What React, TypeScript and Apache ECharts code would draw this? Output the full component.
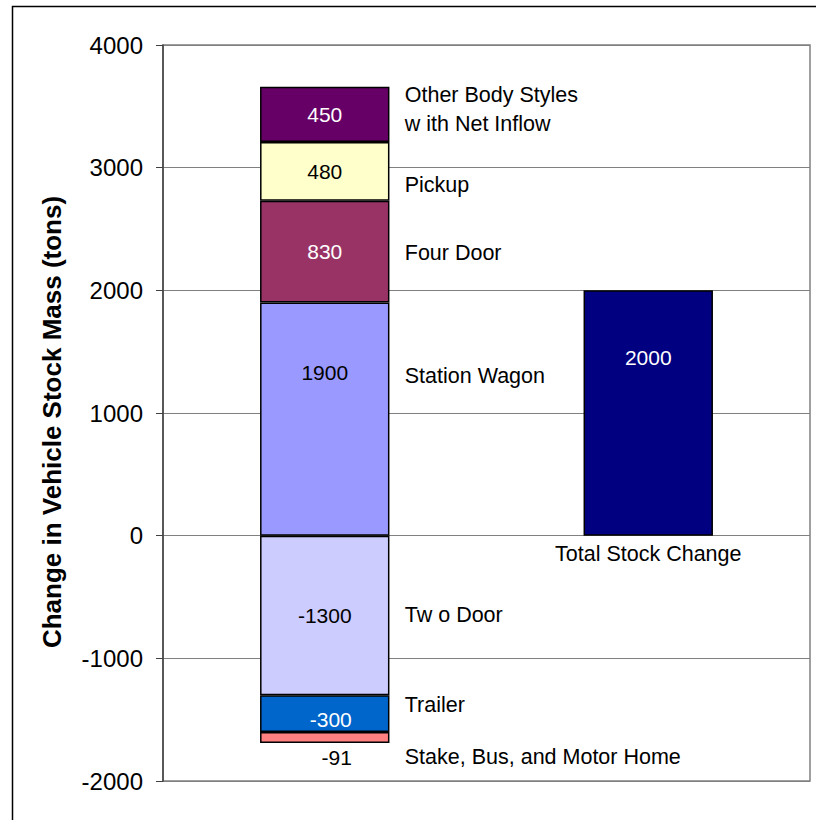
import React, { useEffect, useRef } from "react";
import * as echarts from "echarts";

const categories = ["", "Total Stock Change"];
const seriesNames = [
  "Station Wagon",
  "Four Door",
  "Pickup",
  "Other Body Styles\nw ith Net Inflow",
  "Tw o Door",
  "Trailer",
  "Stake, Bus, and Motor Home",
];
const seriesValues = [1900, 830, 480, 450, -1300, -300, -91];
const totalName = "Total Stock Change";
const totalValue = 2000;
const yTicks = { min: -2000, max: 4000, interval: 1000 };

// styling / layout (not data)
const colors = ["#9999FF", "#993366", "#FFFFCC", "#660066", "#CCCCFF", "#0066CC", "#FF8080"];
const valueLabelColors = ["#000", "#fff", "#000", "#fff", "#000", "#fff", "#000"];
const valueLabelDx = [0, 0, 0, 0, 0, 6, 12];
const valueLabelDy = [-47, 0, 0, 0, 0, 6, 0];
const nameLabelDy = [-43, 1, 14, -5, 0, -9, 19];

const FONT = "'Liberation Sans', Arial, sans-serif";

export default function App() {
  const ref = useRef<HTMLDivElement>(null);
  useEffect(() => {
    if (!ref.current) return;
    const chart = echarts.init(ref.current, null, { renderer: "svg" });

    // segment midpoints in value space (same-sign stacking)
    let pos = 0;
    let neg = 0;
    const mids = seriesValues.map((v) => {
      if (v >= 0) {
        const m = pos + v / 2;
        pos += v;
        return m;
      }
      const m = neg + v / 2;
      neg += v;
      return m;
    });

    const series: any[] = seriesValues.map((v, i) => ({
      name: seriesNames[i],
      type: "bar",
      stack: "s",
      barWidth: "40%",
      data: [v, null],
      itemStyle: { color: colors[i], borderColor: "#000", borderWidth: 1.5 },
      label: {
        show: true,
        position: i === 6 ? "bottom" : "inside",
        distance: 4,
        offset: [valueLabelDx[i], valueLabelDy[i]],
        color: valueLabelColors[i],
        fontSize: 21,
        fontFamily: FONT,
        formatter: (p: any) => String(p.value),
      },
      markPoint: {
        symbol: "circle",
        symbolSize: 0,
        silent: true,
        data: [{ coord: [0, mids[i]], value: seriesNames[i] }],
        label: {
          show: true,
          position: "right",
          distance: 0,
          offset: [80, nameLabelDy[i]],
          align: "left",
          color: "#000",
          fontSize: 21.5,
          lineHeight: 29,
          fontFamily: FONT,
          formatter: () => seriesNames[i],
        },
      },
    }));

    series.push({
      name: totalName,
      type: "bar",
      stack: "s",
      barWidth: "40%",
      data: [null, totalValue],
      itemStyle: { color: "#000080", borderColor: "#000", borderWidth: 1.5 },
      label: {
        show: true,
        position: "inside",
        offset: [0, -56],
        color: "#fff",
        fontSize: 21,
        fontFamily: FONT,
        formatter: (p: any) => String(p.value),
      },
      markPoint: {
        symbol: "circle",
        symbolSize: 0,
        silent: true,
        data: [{ coord: [1, 0], value: categories[1] }],
        label: {
          show: true,
          position: "bottom",
          distance: 7,
          color: "#000",
          fontSize: 21.5,
          fontFamily: FONT,
          formatter: () => categories[1],
        },
      },
    });

    chart.setOption({
      animation: false,
      backgroundColor: "#fff",
      textStyle: { fontFamily: FONT },
      grid: {
        left: 163,
        top: 45,
        right: 6,
        bottom: 39,
        show: true,
        borderColor: "#808080",
        borderWidth: 1.5,
        containLabel: false,
      },
      xAxis: {
        type: "category",
        data: categories,
        axisLine: { show: false },
        axisTick: { show: false },
        axisLabel: { show: false },
        splitLine: { show: false },
      },
      yAxis: {
        type: "value",
        min: yTicks.min,
        max: yTicks.max,
        interval: yTicks.interval,
        name: "Change in Vehicle Stock Mass (tons)",
        nameLocation: "middle",
        nameGap: 98,
        nameTextStyle: {
          color: "#000",
          fontSize: 26,
          fontWeight: "bold",
          fontFamily: FONT,
          padding: [0, 18, 0, 0],
        },
        axisLine: { show: true, lineStyle: { color: "#404040", width: 1.5 } },
        axisTick: { show: true, inside: false, length: 7, lineStyle: { color: "#404040" } },
        axisLabel: {
          color: "#000",
          fontSize: 24,
          fontFamily: FONT,
          margin: 20,
          formatter: (v: number) => String(v),
        },
        splitLine: { show: true, lineStyle: { color: "#808080", width: 1.2 } },
      },
      graphic: [
        {
          type: "rect",
          left: 10,
          top: 4,
          shape: { x: 0, y: 0, width: 900, height: 900 },
          style: { fill: "none", stroke: "#000", lineWidth: 1.5 },
          silent: true,
          z: 100,
        },
      ],
      series,
    });
    return () => chart.dispose();
  }, []);

  return (
    <div
      ref={ref}
      style={{ position: "absolute", left: 0, top: 0, width: 816, height: 820 }}
    />
  );
}
